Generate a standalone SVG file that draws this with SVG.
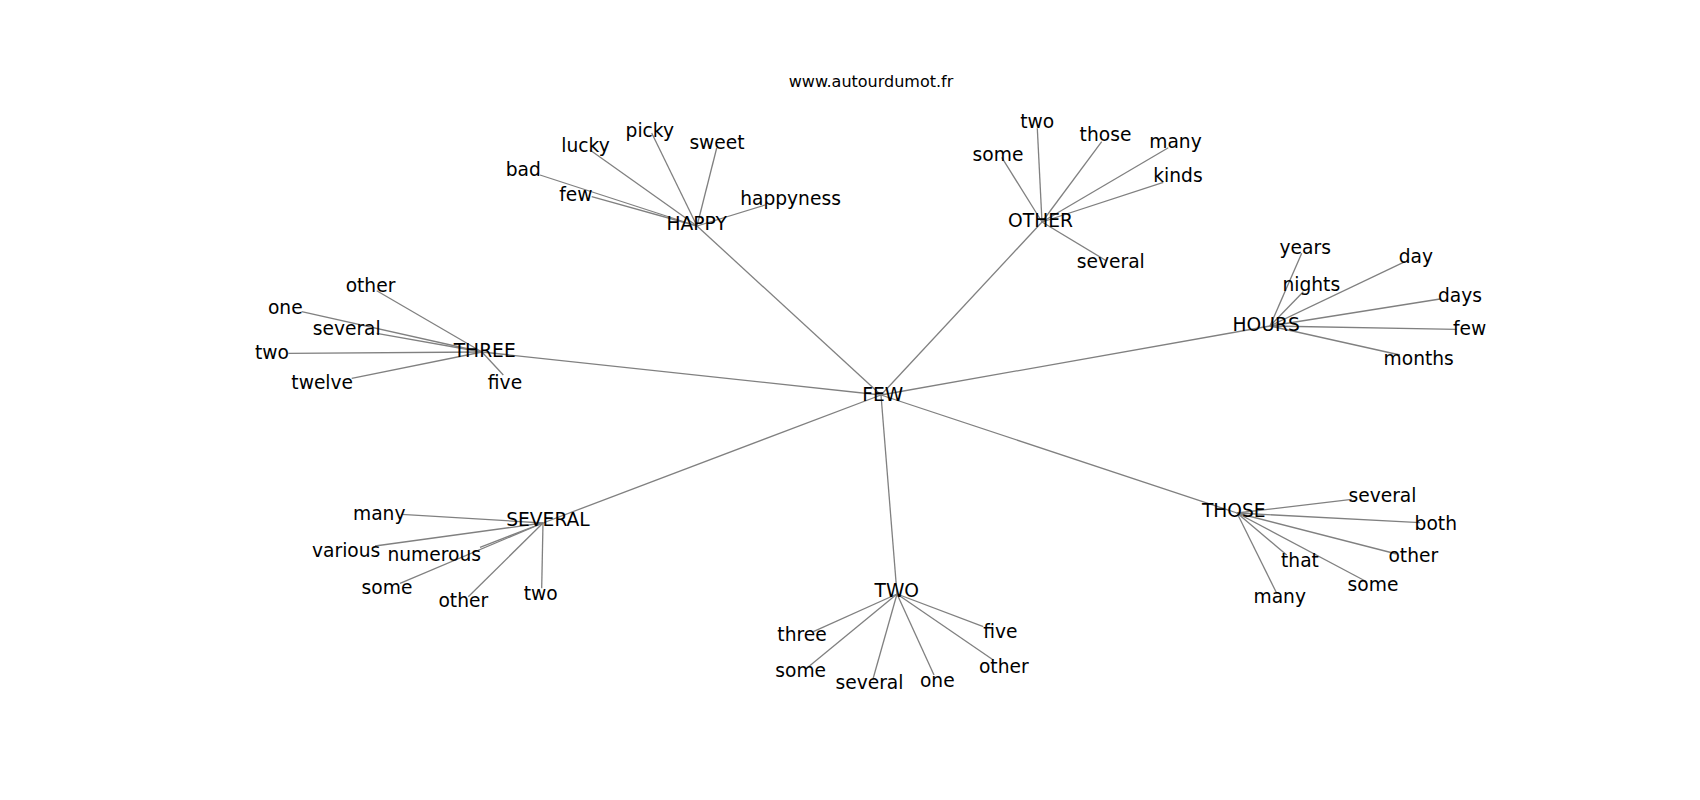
<svg xmlns="http://www.w3.org/2000/svg" width="1700" height="800" viewBox="0 0 1700 800">
<style>
.e{stroke:#808080;stroke-width:1.3;fill:none}
text{font-family:"DejaVu Sans","Liberation Sans",sans-serif;font-size:18.67px;fill:#000;text-anchor:middle}
.t{font-size:16px}
</style>
<rect width="1700" height="800" fill="#fff"/>
<text class="t" x="871" y="86.7">www.autourdumot.fr</text>
<g id="connectors">
<line class="e" x1="881" y1="395" x2="697" y2="226"/>
<line class="e" x1="881" y1="395" x2="1042" y2="222"/>
<line class="e" x1="881" y1="395" x2="1270" y2="326"/>
<line class="e" x1="881" y1="395" x2="482" y2="352"/>
<line class="e" x1="881" y1="395" x2="543" y2="523"/>
<line class="e" x1="881" y1="395" x2="897" y2="594"/>
<line class="e" x1="881" y1="395" x2="1237" y2="513"/>
<line class="e" x1="697" y1="226" x2="540" y2="175"/>
<line class="e" x1="697" y1="226" x2="591.7" y2="196.7"/>
<line class="e" x1="697" y1="226" x2="590" y2="150"/>
<line class="e" x1="697" y1="226" x2="651.7" y2="133"/>
<line class="e" x1="697" y1="226" x2="716.7" y2="148"/>
<line class="e" x1="697" y1="226" x2="765" y2="205"/>
<line class="e" x1="1042" y1="222" x2="1001.7" y2="157.3"/>
<line class="e" x1="1042" y1="222" x2="1037.3" y2="128.3"/>
<line class="e" x1="1042" y1="222" x2="1101.7" y2="141.7"/>
<line class="e" x1="1042" y1="222" x2="1168.3" y2="147.7"/>
<line class="e" x1="1042" y1="222" x2="1163.3" y2="182.3"/>
<line class="e" x1="1042" y1="222" x2="1106.7" y2="261"/>
<line class="e" x1="1270" y1="326" x2="1301.7" y2="253.3"/>
<line class="e" x1="1270" y1="326" x2="1303.3" y2="291.7"/>
<line class="e" x1="1270" y1="326" x2="1405" y2="261.7"/>
<line class="e" x1="1270" y1="326" x2="1440" y2="299"/>
<line class="e" x1="1270" y1="326" x2="1456.7" y2="329.3"/>
<line class="e" x1="1270" y1="326" x2="1400" y2="355"/>
<line class="e" x1="482" y1="352" x2="376.7" y2="290.7"/>
<line class="e" x1="482" y1="352" x2="301.7" y2="311.7"/>
<line class="e" x1="482" y1="352" x2="376.7" y2="333.3"/>
<line class="e" x1="482" y1="352" x2="288.3" y2="353.3"/>
<line class="e" x1="482" y1="352" x2="351.7" y2="378.3"/>
<line class="e" x1="482" y1="352" x2="503.3" y2="375"/>
<line class="e" x1="543" y1="523" x2="401.7" y2="514.3"/>
<line class="e" x1="543" y1="523" x2="375" y2="546"/>
<line class="e" x1="543" y1="523" x2="480" y2="547.3"/>
<line class="e" x1="543" y1="523" x2="400" y2="583.3"/>
<line class="e" x1="543" y1="523" x2="468.3" y2="596.7"/>
<line class="e" x1="543" y1="523" x2="541.7" y2="588.3"/>
<line class="e" x1="897" y1="594" x2="813.3" y2="631.7"/>
<line class="e" x1="897" y1="594" x2="806.7" y2="668.3"/>
<line class="e" x1="897" y1="594" x2="872.7" y2="680"/>
<line class="e" x1="897" y1="594" x2="934" y2="675"/>
<line class="e" x1="897" y1="594" x2="983.3" y2="626.7"/>
<line class="e" x1="897" y1="594" x2="993.3" y2="660"/>
<line class="e" x1="1237" y1="513" x2="1351.7" y2="499.3"/>
<line class="e" x1="1237" y1="513" x2="1420" y2="522.7"/>
<line class="e" x1="1237" y1="513" x2="1396.7" y2="554"/>
<line class="e" x1="1237" y1="513" x2="1286.7" y2="555"/>
<line class="e" x1="1237" y1="513" x2="1366.7" y2="581.7"/>
<line class="e" x1="1237" y1="513" x2="1276.7" y2="593.3"/>
</g>
<g id="n-few"><text x="882.7" y="400.7">FEW</text></g>
<g id="n-happy"><text x="696.7" y="229.5">HAPPY</text></g>
<g id="n-other"><text x="1040.5" y="226.7">OTHER</text></g>
<g id="n-hours"><text x="1266.2" y="331">HOURS</text></g>
<g id="n-three"><text x="484.7" y="356.7">THREE</text></g>
<g id="n-several"><text x="548" y="526">SEVERAL</text></g>
<g id="n-two"><text x="896.8" y="596.7">TWO</text></g>
<g id="n-those"><text x="1233.8" y="517.3">THOSE</text></g>
<g id="happy-bad"><text x="523.3" y="176">bad</text></g>
<g id="happy-few"><text x="575.8" y="201">few</text></g>
<g id="happy-lucky"><text x="585.5" y="151.7">lucky</text></g>
<g id="happy-picky"><text x="649.8" y="136.7">picky</text></g>
<g id="happy-sweet"><text x="717" y="149.3">sweet</text></g>
<g id="happy-happyness"><text x="790.5" y="205">happyness</text></g>
<g id="other-some"><text x="998" y="161">some</text></g>
<g id="other-two"><text x="1037.3" y="128.3">two</text></g>
<g id="other-those"><text x="1105.5" y="140.7">those</text></g>
<g id="other-many"><text x="1175.5" y="147.7">many</text></g>
<g id="other-kinds"><text x="1178" y="182.3">kinds</text></g>
<g id="other-several"><text x="1110.8" y="268.3">several</text></g>
<g id="hours-years"><text x="1305.2" y="254">years</text></g>
<g id="hours-nights"><text x="1311.3" y="290.7">nights</text></g>
<g id="hours-day"><text x="1415.8" y="262.7">day</text></g>
<g id="hours-days"><text x="1460" y="301.7">days</text></g>
<g id="hours-few"><text x="1469.7" y="335">few</text></g>
<g id="hours-months"><text x="1418.7" y="365">months</text></g>
<g id="three-other"><text x="370.5" y="292.3">other</text></g>
<g id="three-one"><text x="285.3" y="314">one</text></g>
<g id="three-several"><text x="346.7" y="335">several</text></g>
<g id="three-two"><text x="272" y="359">two</text></g>
<g id="three-twelve"><text x="322.2" y="389.3">twelve</text></g>
<g id="three-five"><text x="505" y="389.3">five</text></g>
<g id="several-many"><text x="379.2" y="520">many</text></g>
<g id="several-various"><text x="346.2" y="556.7">various</text></g>
<g id="several-numerous"><text x="434.2" y="560.7">numerous</text></g>
<g id="several-some"><text x="387" y="594.3">some</text></g>
<g id="several-other"><text x="463.3" y="606.7">other</text></g>
<g id="several-two"><text x="540.8" y="600">two</text></g>
<g id="two-three"><text x="802" y="641">three</text></g>
<g id="two-some"><text x="800.7" y="676.7">some</text></g>
<g id="two-several"><text x="869.5" y="689.3">several</text></g>
<g id="two-one"><text x="937.3" y="686.7">one</text></g>
<g id="two-five"><text x="1000.3" y="637.7">five</text></g>
<g id="two-other"><text x="1003.8" y="673.3">other</text></g>
<g id="those-several"><text x="1382.5" y="501.7">several</text></g>
<g id="those-both"><text x="1435.8" y="530">both</text></g>
<g id="those-other"><text x="1413.3" y="561.7">other</text></g>
<g id="those-that"><text x="1300" y="567.3">that</text></g>
<g id="those-some"><text x="1373" y="591">some</text></g>
<g id="those-many"><text x="1279.7" y="603.3">many</text></g>
</svg>
